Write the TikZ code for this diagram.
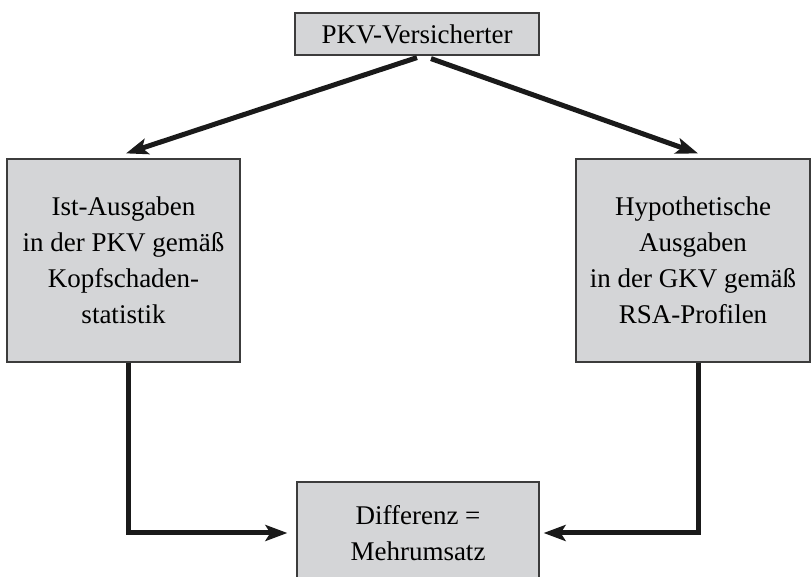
\documentclass[tikz,border=0pt]{standalone}
\usepackage{fontspec}
\setmainfont{Liberation Serif}
\usepackage{tikz}
\usetikzlibrary{arrows.meta,positioning,calc}

\definecolor{boxfill}{RGB}{212,213,215}
\definecolor{boxline}{RGB}{60,60,60}
\definecolor{flowcol}{RGB}{26,26,26}

\tikzset{
	box/.style={draw=boxline, line width=0.6pt, fill=boxfill, align=center, inner sep=0pt,
		font=\fontsize{13.5}{18}\selectfont},
	flow/.style={draw=flowcol, line width=2.5pt,
		-{Stealth[length=11pt,width=8pt,inset=2.5pt]}}
}

\begin{document}
\begin{tikzpicture}[x=0.5pt,y=-0.5pt]
		%\draw[help lines,step=50] (0,0) grid (811,577);
		\useasboundingbox (0,0) rectangle (811,577);
		\clip (0,0) rectangle (811,577);
		\node[box, minimum width=122pt, minimum height=21pt] (versicherter) at (417,34) {PKV-Versicherter};
		\node[box, minimum width=116.5pt, minimum height=101.5pt] (ist) at (123.5,260.5) {Ist-Ausgaben\\in der PKV gemäß\\Kopfschaden-\\statistik};
		\node[box, minimum width=117pt, minimum height=101.5pt] (hypo) at (693,260.5) {Hypothetische\\Ausgaben\\in der GKV gemäß\\RSA-Profilen};
		\node[box, minimum width=121pt, minimum height=51pt] (diff) at (418,533) {Differenz =\\Mehrumsatz};
		\draw[flow] ([yshift=-1pt]versicherter.south) -- ([xshift=1.25pt,yshift=2.5pt]ist.north);
		\draw[flow] ([xshift=7pt,yshift=-1.5pt]versicherter.south) -- ([xshift=2.5pt,yshift=2.5pt]hypo.north);
		\draw[flow] ([xshift=2.5pt]ist.south) |- ([xshift=-4.5pt]diff.west);
		\draw[flow] ([xshift=2.5pt]hypo.south) |- ([xshift=2pt]diff.east);
	\end{tikzpicture}
\end{document}
